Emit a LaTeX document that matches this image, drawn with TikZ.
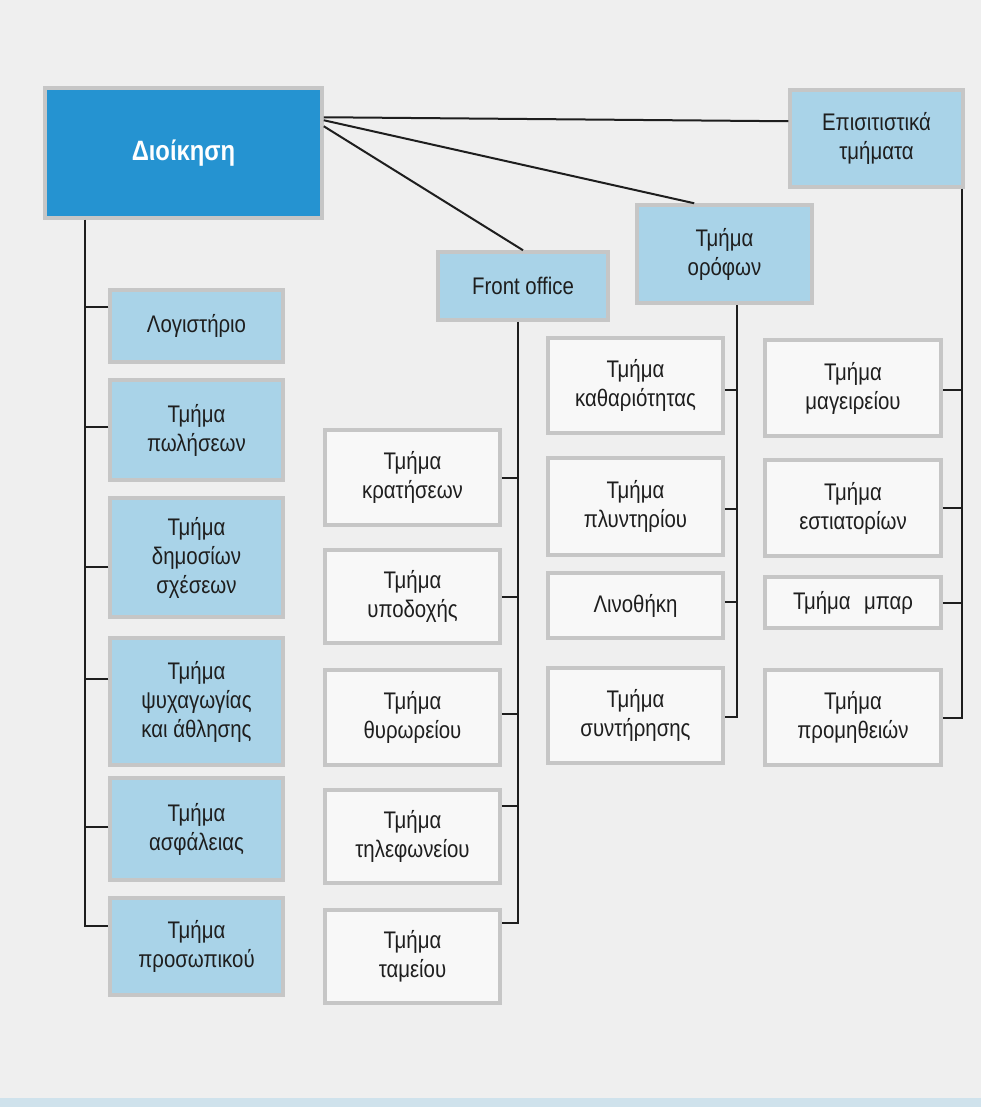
\documentclass[tikz,border=0pt]{standalone}
\usepackage{fontspec}
\setmainfont{Liberation Sans}[FakeStretch=0.85]
\usetikzlibrary{calc}
\definecolor{paper}{HTML}{EFEFEF}
\definecolor{rootblue}{HTML}{2593D1}
\definecolor{lightblue}{HTML}{A9D3E8}
\definecolor{frame}{HTML}{C6C6C6}
\definecolor{card}{HTML}{F8F8F8}
\definecolor{ink}{HTML}{1E1E1E}
\definecolor{strip}{HTML}{CFE2EC}
\begin{document}
\begin{tikzpicture}[x=1pt,y=-1pt,
  box/.style={draw=frame, line width=3.5pt, inner sep=0pt, align=center,
    font=\fontsize{24}{29}\selectfont, text=ink},
  bluebox/.style={box, fill=lightblue},
  whitebox/.style={box, fill=card},
  sz/.style 2 args={minimum width=#1pt, minimum height=#2pt},
  link/.style={draw=ink, line width=2pt}]
% sheet
\fill[paper] (0,0) rectangle (981,1107);
\fill[strip] (0,1098) rectangle (981,1107);
\useasboundingbox (0,0) rectangle (981,1107);

% head office and the three main departments
\node[box, fill=rootblue, text=white, sz={277}{130},
  font=\fontsize{28}{32}\selectfont\bfseries] (root) at (183.5,153) {Διοίκηση};
\node[bluebox, sz={173}{97}] (epis) at (876.5,138.5) {Επισιτιστικά\\τμήματα};
\node[bluebox, sz={175}{98}] (oro) at (724.5,254) {Τμήμα\\ορόφων};
\node[bluebox, sz={170}{68}] (front) at (523,286) {Front office};

% staff departments
\node[bluebox, sz={173}{72}]  (acc)  at (196.5,326)   {Λογιστήριο};
\node[bluebox, sz={173}{100}] (sale) at (196.5,430)   {Τμήμα\\πωλήσεων};
\node[bluebox, sz={173}{119}] (pubr) at (196.5,557.5) {Τμήμα\\δημοσίων\\σχέσεων};
\node[bluebox, sz={173}{127}] (recr) at (196.5,701.5) {Τμήμα\\ψυχαγωγίας\\και άθλησης};
\node[bluebox, sz={173}{102}] (secu) at (196.5,829)   {Τμήμα\\ασφάλειας};
\node[bluebox, sz={173}{97}]  (pers) at (196.5,946.5) {Τμήμα\\προσωπικού};

% front office sections
\node[whitebox, sz={175}{95}] (kra) at (412.5,477.5) {Τμήμα\\κρατήσεων};
\node[whitebox, sz={175}{93}] (ypo) at (412.5,596.5) {Τμήμα\\υποδοχής};
\node[whitebox, sz={175}{95}] (thy) at (412.5,717.5) {Τμήμα\\θυρωρείου};
\node[whitebox, sz={175}{93}] (til) at (412.5,836.5) {Τμήμα\\τηλεφωνείου};
\node[whitebox, sz={175}{93}] (tam) at (412.5,956.5) {Τμήμα\\ταμείου};

% housekeeping sections
\node[whitebox, sz={175}{95}] (kath) at (635.5,385.5) {Τμήμα\\καθαριότητας};
\node[whitebox, sz={175}{97}] (ply)  at (635.5,506.5) {Τμήμα\\πλυντηρίου};
\node[whitebox, sz={175}{65}] (lino) at (635.5,605.5) {Λινοθήκη};
\node[whitebox, sz={175}{95}] (synt) at (635.5,715.5) {Τμήμα\\συντήρησης};

% food and beverage sections
\node[whitebox, sz={176}{96}] (mag)  at (853,388)   {Τμήμα\\μαγειρείου};
\node[whitebox, sz={176}{96}] (est)  at (853,508)   {Τμήμα\\εστιατορίων};
\node[whitebox, sz={176}{51}] (bar)  at (853,602.5) {Τμήμα\;\;μπαρ};
\node[whitebox, sz={176}{95}] (prom) at (853,717.5) {Τμήμα\\προμηθειών};

% links from the head office
\draw[link] ([yshift=-31pt]root.north east) -- ([yshift=-33pt]epis.north west);
\draw[link] ([yshift=-34pt]root.north east) -- ($(oro.north west)!0.33!(oro.north east)$);
\draw[link] ([yshift=-40pt]root.north east) -- (front.north);

% trunks
\coordinate (ltrunk) at ([xshift=42pt]root.south west);
\coordinate (ftrunk) at ([xshift=-5pt]front.south);
\coordinate (otrunk) at ([xshift=12pt]oro.south);
\coordinate (etrunk) at ([xshift=-3pt]epis.south east);

% branch points on the boxes
\coordinate (acc-t)  at ($(acc.north west)!0.25!(acc.south west)$);
\coordinate (sale-t) at ($(sale.north west)!0.47!(sale.south west)$);
\coordinate (pubr-t) at ($(pubr.north west)!0.58!(pubr.south west)$);
\coordinate (recr-t) at ($(recr.north west)!0.33!(recr.south west)$);
\coordinate (secu-t) at ($(secu.north west)!0.48!(secu.south west)$);
\coordinate (pers-t) at ($(pers.north west)!0.30!(pers.south west)$);

\coordinate (kra-t) at ($(kra.north east)!0.50!(kra.south east)$);
\coordinate (ypo-t) at ($(ypo.north east)!0.50!(ypo.south east)$);
\coordinate (thy-t) at ($(thy.north east)!0.46!(thy.south east)$);
\coordinate (til-t) at ($(til.north east)!0.18!(til.south east)$);
\coordinate (tam-t) at ($(tam.north east)!0.15!(tam.south east)$);

\coordinate (kath-t) at ($(kath.north east)!0.55!(kath.south east)$);
\coordinate (ply-t)  at ($(ply.north east)!0.52!(ply.south east)$);
\coordinate (lino-t) at ($(lino.north east)!0.45!(lino.south east)$);
\coordinate (synt-t) at ($(synt.north east)!0.52!(synt.south east)$);

\coordinate (mag-t)  at ($(mag.north east)!0.52!(mag.south east)$);
\coordinate (est-t)  at ($(est.north east)!0.50!(est.south east)$);
\coordinate (bar-t)  at ($(bar.north east)!0.50!(bar.south east)$);
\coordinate (prom-t) at ($(prom.north east)!0.50!(prom.south east)$);

% staff departments
\draw[link] (ltrunk) |- (pers-t);
\foreach \b in {acc,sale,pubr,recr,secu}
  \draw[link] (\b-t) -- (\b-t -| ltrunk);

% front office
\draw[link] (ftrunk) |- (tam-t);
\foreach \b in {kra,ypo,thy,til}
  \draw[link] (\b-t) -- (\b-t -| ftrunk);

% housekeeping
\draw[link] (otrunk) |- (synt-t);
\foreach \b in {kath,ply,lino}
  \draw[link] (\b-t) -- (\b-t -| otrunk);

% food and beverage
\draw[link] (etrunk) |- (prom-t);
\foreach \b in {mag,est,bar}
  \draw[link] (\b-t) -- (\b-t -| etrunk);
\end{tikzpicture}
\end{document}
